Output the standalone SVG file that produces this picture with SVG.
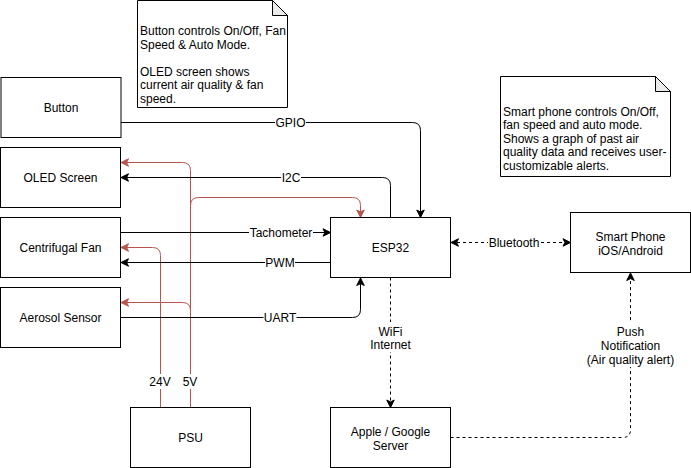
<svg xmlns="http://www.w3.org/2000/svg" width="691" height="468" viewBox="0 0 691 468">
<style>
text{font-family:"Liberation Sans",Arial,Helvetica,sans-serif;font-size:12px;fill:#000}
.c{text-anchor:middle}
.box{fill:#fff;stroke:#000;stroke-width:1}
.note{fill:#fff;stroke:#000;stroke-width:1}
.fold{fill:#ebebeb;stroke:#000;stroke-width:1}
.e{fill:none;stroke:#000;stroke-width:1}
.d{stroke-dasharray:3 3}
.r{fill:none;stroke:#b85450;stroke-width:1}
.bg{fill:#fff}
</style>
<defs>
<marker id="ab" viewBox="-9 -5 10 10" markerWidth="10" markerHeight="10" refX="0" refY="0" orient="auto-start-reverse" markerUnits="userSpaceOnUse">
<path d="M0,0 L-7.5,-3.75 L-5.6,0 L-7.5,3.75 Z" fill="#000" stroke="#000" stroke-width="1"/>
</marker>
<marker id="ar" viewBox="-9 -5 10 10" markerWidth="10" markerHeight="10" refX="0" refY="0" orient="auto" markerUnits="userSpaceOnUse">
<path d="M0,0 L-7.5,-3.75 L-5.6,0 L-7.5,3.75 Z" fill="#b85450" stroke="#b85450" stroke-width="1"/>
</marker>
</defs>

<g id="connectors">
<path class="r" d="M190.5 407.5 V170.5 Q190.5 162.5 182.5 162.5 H121" marker-end="url(#ar)"/>
<path class="r" d="M190.5 407.5 V205.5 Q190.5 197.5 198.5 197.5 H352.5 Q360.5 197.5 360.5 205.5 V217.5" marker-end="url(#ar)"/>
<path class="r" d="M190.5 407.5 V310.5 Q190.5 302.5 182.5 302.5 H121" marker-end="url(#ar)"/>
<path class="r" d="M160.5 407.5 V255.5 Q160.5 247.5 152.5 247.5 H121" marker-end="url(#ar)"/>

<path class="e" d="M121 122.5 H412.5 Q420.5 122.5 420.5 130.5 V217.5" marker-end="url(#ab)"/>
<path class="e" d="M390.5 217.5 V185.5 Q390.5 177.5 382.5 177.5 H121" marker-end="url(#ab)"/>
<path class="e" d="M120.5 232.5 H330.5" marker-end="url(#ab)"/>
<path class="e" d="M330.5 262.5 H121" marker-end="url(#ab)"/>
<path class="e" d="M120.5 317.5 H352.5 Q360.5 317.5 360.5 309.5 V278" marker-end="url(#ab)"/>
<path class="e d" d="M451 242.5 H570.5" marker-start="url(#ab)" marker-end="url(#ab)"/>
<path class="e d" d="M390.5 277.5 V407.5" marker-end="url(#ab)"/>
<path class="e d" d="M450.5 437.5 H622.5 Q630.5 437.5 630.5 429.5 V273" marker-end="url(#ab)"/>

<rect class="bg" x="275" y="115" width="31" height="15"/>
<text class="c" x="290.5" y="126.5">GPIO</text>
<rect class="bg" x="281" y="170" width="20" height="15"/>
<text class="c" x="291" y="181.5">I2C</text>
<rect class="bg" x="249" y="225" width="64" height="15"/>
<text class="c" x="281" y="236.5">Tachometer</text>
<rect class="bg" x="265" y="255" width="30" height="15"/>
<text class="c" x="280" y="266.5">PWM</text>
<rect class="bg" x="263.5" y="310" width="33" height="15"/>
<text class="c" x="280" y="321.5">UART</text>
<rect class="bg" x="488" y="235" width="51" height="15"/>
<text class="c" x="514" y="246.5">Bluetooth</text>
<rect class="bg" x="368" y="322" width="45" height="30"/>
<text class="c" x="390.5" y="335.5">WiFi</text>
<text class="c" x="390.5" y="349">Internet</text>
<rect class="bg" x="586" y="323" width="89" height="44"/>
<text class="c" x="630.5" y="336">Push</text>
<text class="c" x="630.5" y="350">Notification</text>
<text class="c" x="630.5" y="364">(Air quality alert)</text>
<rect class="bg" x="149" y="374" width="22" height="15"/>
<text class="c" x="160" y="386">24V</text>
<rect class="bg" x="182" y="374" width="16" height="15"/>
<text class="c" x="190" y="386">5V</text>
</g>

<g id="note-button">
<path class="note" d="M137.5 0.5 H272.5 L287.5 15.5 V107.5 H137.5 Z"/>
<path class="fold" d="M272.5 0.5 V15.5 H287.5 Z"/>
<text x="140" y="35">Button controls On/Off, Fan</text>
<text x="140" y="48.5">Speed &amp; Auto Mode.</text>
<text x="140" y="75.5">OLED screen shows</text>
<text x="140" y="89">current air quality &amp; fan</text>
<text x="140" y="102.5">speed.</text>
</g>

<g id="note-phone">
<path class="note" d="M500.5 76.5 H655.5 L670.5 91.5 V176.5 H500.5 Z"/>
<path class="fold" d="M655.5 76.5 V91.5 H670.5 Z"/>
<text x="503" y="115.5">Smart phone controls On/Off,</text>
<text x="503" y="129">fan speed and auto mode.</text>
<text x="503" y="142.5">Shows a graph of past air</text>
<text x="503" y="156">quality data and receives user-</text>
<text x="503" y="169.5">customizable alerts.</text>
</g>

<g id="button">
<rect class="box" x="1" y="77.5" width="120" height="60"/>
<text class="c" x="61" y="111.5">Button</text>
</g>
<g id="oled">
<rect class="box" x="0.5" y="147.5" width="120" height="60"/>
<text class="c" x="60.5" y="181.5">OLED Screen</text>
</g>
<g id="fan">
<rect class="box" x="0.5" y="217.5" width="120" height="60"/>
<text class="c" x="60.5" y="251.5">Centrifugal Fan</text>
</g>
<g id="aerosol">
<rect class="box" x="0.5" y="287.5" width="120" height="60"/>
<text class="c" x="60.5" y="321.5">Aerosol Sensor</text>
</g>
<g id="esp32">
<rect class="box" x="330.5" y="217.5" width="120" height="60"/>
<text class="c" x="390.5" y="251.5">ESP32</text>
</g>
<g id="phone">
<rect class="box" x="570.5" y="212.5" width="120" height="60"/>
<text class="c" x="630.5" y="240.5">Smart Phone</text>
<text class="c" x="630.5" y="254.5">iOS/Android</text>
</g>
<g id="psu">
<rect class="box" x="130.5" y="407.5" width="120" height="60"/>
<text class="c" x="190.5" y="441.5">PSU</text>
</g>
<g id="server">
<rect class="box" x="330.5" y="407.5" width="120" height="60"/>
<text class="c" x="390.5" y="435.5">Apple / Google</text>
<text class="c" x="390.5" y="449.5">Server</text>
</g>
</svg>
